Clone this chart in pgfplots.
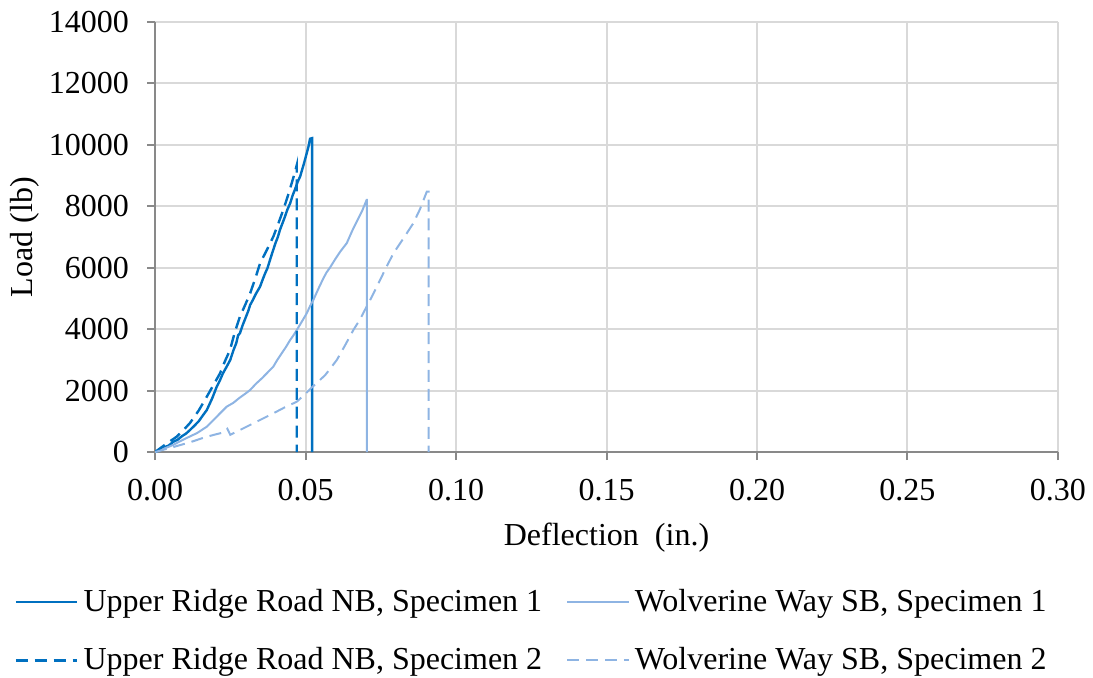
\documentclass[border=0pt]{standalone}
\usepackage{fontspec}
\setmainfont{Liberation Serif}
\usepackage{pgfplots}
\pgfplotsset{compat=1.18}

\definecolor{darkblue}{HTML}{0070C0}
\definecolor{lightblue}{HTML}{8EB4E3}
\definecolor{gridgray}{HTML}{D9D9D9}
\definecolor{axisgray}{HTML}{898989}

\begin{document}
\begin{tikzpicture}
\begin{axis}[
  scale only axis,
  width=338.6bp, height=161.25bp,
  font=\fontsize{12bp}{14bp}\selectfont,
  xmin=0, xmax=0.3, ymin=0, ymax=14000,
  xtick={0,0.05,0.1,0.15,0.2,0.25,0.3},
  ytick={0,2000,4000,6000,8000,10000,12000,14000},
  scaled x ticks=false, scaled y ticks=false,
  xticklabel style={/pgf/number format/fixed,/pgf/number format/fixed zerofill,/pgf/number format/precision=2, yshift=-3.5bp},
  yticklabel style={/pgf/number format/1000 sep={}, xshift=-3.3bp},
  /pgf/number format/assume math mode=true,
  axis lines=left,
  axis line style={-, draw=axisgray, line width=0.75bp},
  tick align=outside,
  major tick length=3bp,
  tick style={draw=axisgray, line width=0.75bp},
  grid=major,
  major grid style={draw=gridgray, line width=0.75bp},
  xlabel={Deflection\ \ (in.)},
  ylabel={Load (lb)},
  xlabel style={at={(axis description cs:0.5,-0.198)}, anchor=center},
  ylabel style={at={(axis description cs:-0.144,0.5)}, anchor=center},
  legend columns=2,
  legend cell align=left,
  legend style={at={(axis description cs:-0.165,-0.293)}, anchor=north west,
    draw=none, fill=none, row sep=8bp, font=\fontsize{12bp}{14bp}\selectfont,
    /tikz/every even column/.append style={column sep=7bp}},
  legend image code/.code={\draw[#1] (0bp,0bp) -- (23bp,0bp);},
]
% Upper Ridge Road NB, Specimen 1
\addplot[darkblue, line width=0.9bp] coordinates {
(0,0) (0.0015,60) (0.003,150) (0.0045,210) (0.0061,335) (0.0075,400)
(0.009,520) (0.0103,600) (0.0116,716) (0.013,850) (0.0145,1000)
(0.0158,1180) (0.0172,1368) (0.019,1750) (0.0205,2127) (0.0215,2320)
(0.0225,2550) (0.0238,2780) (0.025,3000) (0.026,3300) (0.027,3550)
(0.0276,3800) (0.0282,3866) (0.029,4100) (0.030,4350) (0.031,4600)
(0.0316,4788) (0.0325,4950) (0.0335,5150) (0.0349,5385) (0.0357,5600)
(0.0365,5800) (0.0374,6000) (0.0382,6254) (0.039,6500) (0.040,6800)
(0.0408,7000) (0.0415,7231) (0.043,7620) (0.044,7900) (0.0449,8100)
(0.0457,8350) (0.0465,8550) (0.0474,8800) (0.0482,8968) (0.0495,9400)
(0.0504,9730) (0.051,9950) (0.0515,10200) (0.0522,10220) (0.0522,0)};
\addlegendentry{Upper Ridge Road NB, Specimen 1}
% Wolverine Way SB, Specimen 1
\addplot[lightblue, line width=0.75bp] coordinates {
(0,0) (0.003,110) (0.006,230) (0.0085,360) (0.011,480) (0.014,620)
(0.0172,825) (0.019,1000) (0.0205,1150) (0.022,1300) (0.0238,1477)
(0.026,1600) (0.028,1760) (0.030,1900) (0.0316,2020) (0.0335,2220)
(0.0355,2400) (0.0375,2600) (0.0393,2780) (0.0405,2980) (0.0420,3200)
(0.0435,3420) (0.0449,3648) (0.046,3800) (0.0471,3974) (0.0488,4250)
(0.0504,4517) (0.0515,4750) (0.0526,4951) (0.0542,5300) (0.0559,5650)
(0.057,5850) (0.0581,6000) (0.060,6300) (0.0615,6520) (0.0637,6800)
(0.0655,7200) (0.0670,7500) (0.0688,7850) (0.0703,8207) (0.0704,8207)
(0.0704,0)};
\addlegendentry{Wolverine Way SB, Specimen 1}
% Upper Ridge Road NB, Specimen 2
\addplot[darkblue, line width=0.9bp, dash pattern=on 4.5bp off 2.6bp] coordinates {
(0,0) (0.0035,250) (0.0072,500) (0.0095,720) (0.0116,944) (0.0145,1350)
(0.0172,1802) (0.0195,2200) (0.0216,2563) (0.0232,2950) (0.0249,3322)
(0.0265,3900) (0.0282,4408) (0.030,4800) (0.0316,5168) (0.0333,5650)
(0.0349,6145) (0.037,6550) (0.0393,7013) (0.041,7450) (0.0426,7882)
(0.044,8300) (0.0454,8751) (0.0463,9050) (0.0471,9347) (0.0471,0)};
\addlegendentry{Upper Ridge Road NB, Specimen 2}
% Wolverine Way SB, Specimen 2
\addplot[lightblue, line width=0.75bp, dash pattern=on 4.5bp off 2.6bp] coordinates {
(0,0) (0.006,160) (0.012,330) (0.0172,500) (0.022,620) (0.024,760)
(0.025,560) (0.0282,716) (0.034,1000) (0.0393,1260) (0.043,1450)
(0.0471,1638) (0.050,1900) (0.0526,2150) (0.0565,2500) (0.0604,2997)
(0.063,3450) (0.0659,3974) (0.068,4300) (0.0703,4734) (0.072,5050)
(0.0737,5385) (0.0765,5950) (0.0792,6471) (0.0825,6950) (0.0858,7448)
(0.088,7900) (0.0903,8479) (0.0909,8479) (0.0909,0)};
\addlegendentry{Wolverine Way SB, Specimen 2}
\coordinate (bl) at (rel axis cs:-0.1717,-0.5233);
\coordinate (tr) at (rel axis cs:1.0388,1.0512);
\end{axis}
\pgfresetboundingbox
\useasboundingbox (bl) rectangle (tr);
\end{tikzpicture}
\end{document}
